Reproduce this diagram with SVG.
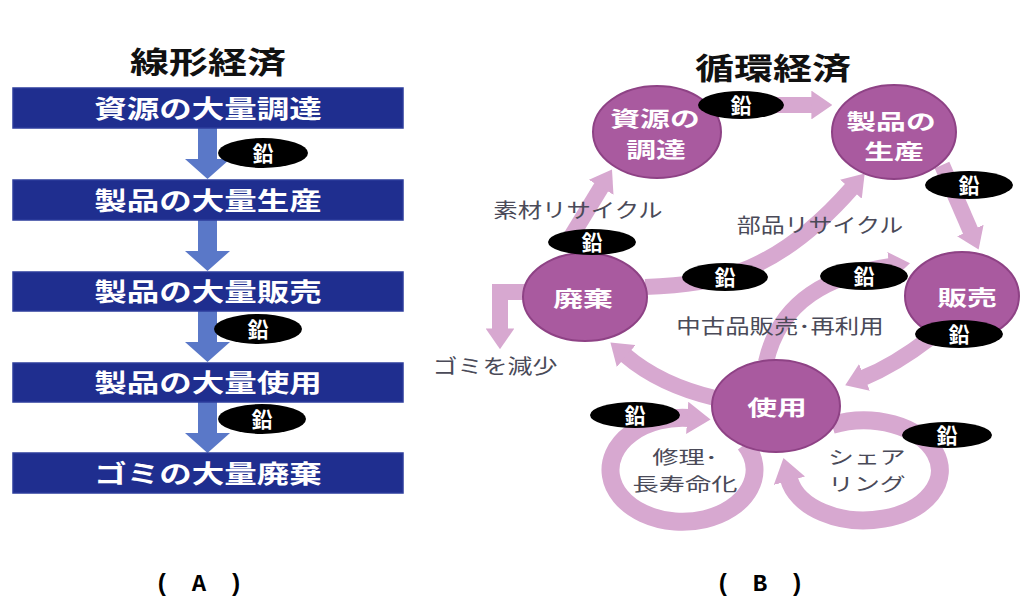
<svg xmlns="http://www.w3.org/2000/svg" width="1021" height="598" viewBox="0 0 1021 598">
<style>
text{font-family:"Noto Sans CJK JP","Noto Sans CJK SC",sans-serif;}
.title{font-size:30px;font-weight:700;fill:#111;text-anchor:middle;}
.box{fill:#1f2e8f;stroke:#2c3c9c;stroke-width:1.5;}
.boxt{font-size:25px;font-weight:700;fill:#fff;text-anchor:middle;}
.larr{fill:#5a78c8;}
.lead{fill:#000;}
.leadt{font-size:21px;font-weight:700;fill:#fff;text-anchor:middle;}
.node{fill:#a95a9f;stroke:#8e4285;stroke-width:2;}
.nodet{font-size:21px;font-weight:700;fill:#fff;text-anchor:middle;}
.rarr{fill:none;stroke:#d7a8d0;stroke-width:16;marker-end:url(#ah);}
.ring{fill:none;stroke:#d7a8d0;stroke-width:18;marker-end:url(#ah);}
.lbl{font-size:20px;fill:#4a4a58;}
.lbl2{font-size:18.5px;fill:#4a4a58;}
.cap{font-family:"Liberation Mono",monospace;font-size:24px;font-weight:700;fill:#000;text-anchor:middle;letter-spacing:4px;}
</style>
<defs>
<marker id="ah" viewBox="0 0 13 18" refX="1" refY="9" markerWidth="1.3" markerHeight="1.8" orient="auto" markerUnits="strokeWidth">
<path d="M0,0 L13,9 L0,18 z" fill="#d7a8d0"/>
</marker>
<polygon id="la" class="larr" points="198,0 217,0 217,31 230,31 207.5,51 185,31 198,31"/>
</defs>
<rect width="1021" height="598" fill="#fff"/>

<!-- Left: linear economy -->
<text class="title" transform="translate(208,73) scale(1.3,1)">線形経済</text>
<g id="linear-connectors">
<use href="#la" transform="translate(0,128)"/>
<use href="#la" transform="translate(0,220)"/>
<use href="#la" transform="translate(0,311)"/>
<use href="#la" transform="translate(0,402)"/>
</g>
<g id="l-box1"><rect class="box" x="13" y="88" width="390" height="40"/><text class="boxt" transform="translate(208,118) scale(1.3,1)">資源の大量調達</text></g>
<g id="l-box2"><rect class="box" x="13" y="180" width="390" height="40"/><text class="boxt" transform="translate(208,210) scale(1.3,1)">製品の大量生産</text></g>
<g id="l-box3"><rect class="box" x="13" y="272" width="390" height="39"/><text class="boxt" transform="translate(208,301) scale(1.3,1)">製品の大量販売</text></g>
<g id="l-box4"><rect class="box" x="13" y="363" width="390" height="39"/><text class="boxt" transform="translate(208,392) scale(1.3,1)">製品の大量使用</text></g>
<g id="l-box5"><rect class="box" x="13" y="453" width="390" height="40"/><text class="boxt" transform="translate(208,483) scale(1.3,1)">ゴミの大量廃棄</text></g>
<g id="l-lead1"><ellipse class="lead" cx="263" cy="153" rx="45" ry="15"/><text class="leadt" x="263" y="161">鉛</text></g>
<g id="l-lead2"><ellipse class="lead" cx="258" cy="329" rx="44" ry="15"/><text class="leadt" x="258" y="337">鉛</text></g>
<g id="l-lead3"><ellipse class="lead" cx="262" cy="419" rx="44" ry="15"/><text class="leadt" x="262" y="427">鉛</text></g>

<!-- Right: circular economy -->
<text class="title" transform="translate(773,79) scale(1.3,1)">循環経済</text>
<g id="circular-connectors">
<path class="rarr" d="M715,105 L813,105"/>
<path class="rarr" d="M942,165 L971,232"/>
<path class="rarr" d="M930,338 Q895,365 863,378"/>
<path class="rarr" d="M715,398 Q660,385 625,355"/>
<path class="rarr" d="M645,287 C720,285 780,270 852,188"/>
<path class="rarr" d="M566,245 L602,186"/>
<path class="rarr" d="M766,362 C780,300 830,275 891,266"/>
<path class="rarr" d="M528,292 L500,292 L500,330" stroke-linejoin="miter"/>
<path class="ring" d="M745,444 A72,52 0 1,1 689,418"/>
<path class="ring" d="M832,425 A76,50 0 1,1 789,479"/>
</g>
<g id="n-shigen"><ellipse class="node" cx="657" cy="132" rx="64" ry="46"/><text class="nodet" transform="translate(655,126) scale(1.42,1)">資源の</text><text class="nodet" transform="translate(656,157) scale(1.42,1)">調達</text></g>
<g id="n-seihin"><ellipse class="node" cx="894" cy="132" rx="62" ry="47"/><text class="nodet" transform="translate(891,129) scale(1.42,1)">製品の</text><text class="nodet" transform="translate(894,159) scale(1.42,1)">生産</text></g>
<g id="n-hanbai"><ellipse class="node" cx="962" cy="296" rx="57" ry="44"/><text class="nodet" transform="translate(967,305) scale(1.42,1)">販売</text></g>
<g id="n-haiki"><ellipse class="node" cx="585" cy="297" rx="62" ry="44"/><text class="nodet" transform="translate(583,306) scale(1.42,1)">廃棄</text></g>
<g id="n-shiyou"><ellipse class="node" cx="776" cy="406" rx="64" ry="46"/><text class="nodet" transform="translate(777,415) scale(1.42,1)">使用</text></g>

<g id="labels">
<text class="lbl" text-anchor="middle" transform="translate(578,218) scale(1.22,1)">素材リサイクル</text>
<text class="lbl" text-anchor="middle" transform="translate(820,233) scale(1.2,1)">部品リサイクル</text>
<text class="lbl" text-anchor="middle" transform="translate(780,334) scale(1.22,1)">中古品販売･再利用</text>
<text class="lbl" text-anchor="middle" transform="translate(495,374) scale(1.25,1)">ゴミを減少</text>
<text class="lbl2" text-anchor="middle" transform="translate(685,464) scale(1.42,1)">修理･</text>
<text class="lbl2" text-anchor="middle" transform="translate(685,491) scale(1.42,1)">長寿命化</text>
<text class="lbl2" text-anchor="start" transform="translate(828,464) scale(1.4,1)">シェア</text>
<text class="lbl2" text-anchor="start" transform="translate(828,491) scale(1.4,1)">リング</text>
</g>

<g id="r-lead1"><ellipse class="lead" cx="741" cy="105" rx="43" ry="14"/><text class="leadt" x="741" y="113">鉛</text></g>
<g id="r-lead2"><ellipse class="lead" cx="969" cy="185" rx="44" ry="14"/><text class="leadt" x="969" y="193">鉛</text></g>
<g id="r-lead3"><ellipse class="lead" cx="592" cy="242" rx="44" ry="13"/><text class="leadt" x="592" y="250">鉛</text></g>
<g id="r-lead4"><ellipse class="lead" cx="725" cy="277" rx="43" ry="14"/><text class="leadt" x="725" y="285">鉛</text></g>
<g id="r-lead5"><ellipse class="lead" cx="864" cy="276" rx="44" ry="14"/><text class="leadt" x="864" y="284">鉛</text></g>
<g id="r-lead6"><ellipse class="lead" cx="959" cy="334" rx="44" ry="14"/><text class="leadt" x="959" y="342">鉛</text></g>
<g id="r-lead7"><ellipse class="lead" cx="635" cy="415" rx="45" ry="13"/><text class="leadt" x="635" y="423">鉛</text></g>
<g id="r-lead8"><ellipse class="lead" cx="947" cy="435" rx="45" ry="13"/><text class="leadt" x="947" y="443">鉛</text></g>

<text class="cap" x="201" y="591">( A )</text>
<text class="cap" x="762" y="591">( B )</text>
</svg>
